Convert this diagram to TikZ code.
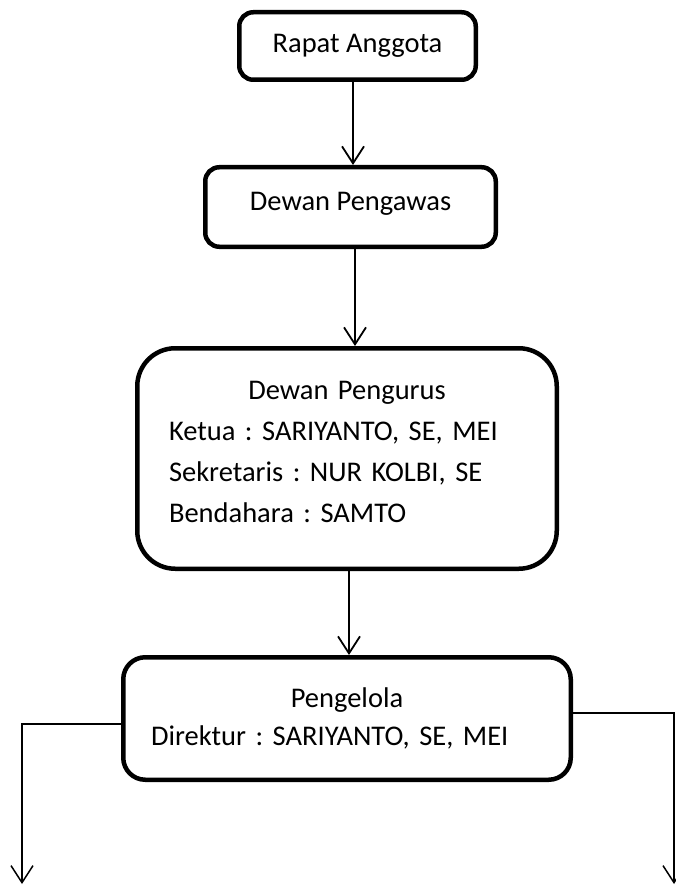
\documentclass[tikz,border=0pt]{standalone}
\usepackage{fontspec}
\setmainfont{Carlito}
\usetikzlibrary{arrows.meta, positioning}
\frenchspacing

\begin{document}
\begin{tikzpicture}[x=1pt, y=-1pt,
    unit/.style={draw, line width=4.5pt, rounded corners=#1, inner sep=0pt,
                 font=\fontsize{28.5}{41}\selectfont},
    unit/.default=14pt,
    arr/.style={-{Straight Barb[length=17pt, width=22pt, line width=1.8pt]}, line width=1.8pt},
    side/.style={-{Straight Barb[length=17pt, width=22pt, line width=1.5pt]}, line width=1.5pt},
]
    \useasboundingbox (0,0) rectangle (676,885);

    \node[unit, minimum width=236.5pt, minimum height=67.5pt] (rapat) at (357.5,46) {Rapat Anggota};
    \node[unit, minimum width=290.5pt, minimum height=79.5pt, align=center] (pengawas) at (350.5,207)
        {Dewan Pengawas\\[-30pt]\null};
    \node[unit=38pt, minimum width=419.5pt, minimum height=220.5pt, text width=356pt, align=left]
        (pengurus) at (347,458.5)
        {\makebox[\linewidth]{Dewan Pengurus}\\
         Ketua : SARIYANTO, SE, MEI\\
         Sekretaris : NUR KOLBI, SE\\
         Bendahara : SAMTO\\[-27pt]\null};
    \node[unit=22pt, minimum width=447.5pt, minimum height=122.5pt, text width=392pt, align=left]
        (pengelola) at (347,718.5)
        {\makebox[\linewidth]{Pengelola}\\[-3pt]
         Direktur : SARIYANTO, SE, MEI\par\vspace{6pt}};

    \draw[arr] ([xshift=-4.5pt]rapat.south) -- ([xshift=-4.5pt]rapat.south |- pengawas.north);
    \draw[arr] ([xshift=4.5pt]pengawas.south) -- ([xshift=4.5pt]pengawas.south |- pengurus.north);
    \draw[arr] ([xshift=2pt]pengurus.south) -- ([xshift=2pt]pengurus.south |- pengelola.north);

    % Lines going down to the next level
    \coordinate (leftend) at (22,884);
    \coordinate (rightend) at (674,884);
    \draw[side] ([yshift=-5.5pt]pengelola.west) -| (leftend);
    \draw[side] ([yshift=5.5pt]pengelola.east) -| (rightend);
\end{tikzpicture}
\end{document}
